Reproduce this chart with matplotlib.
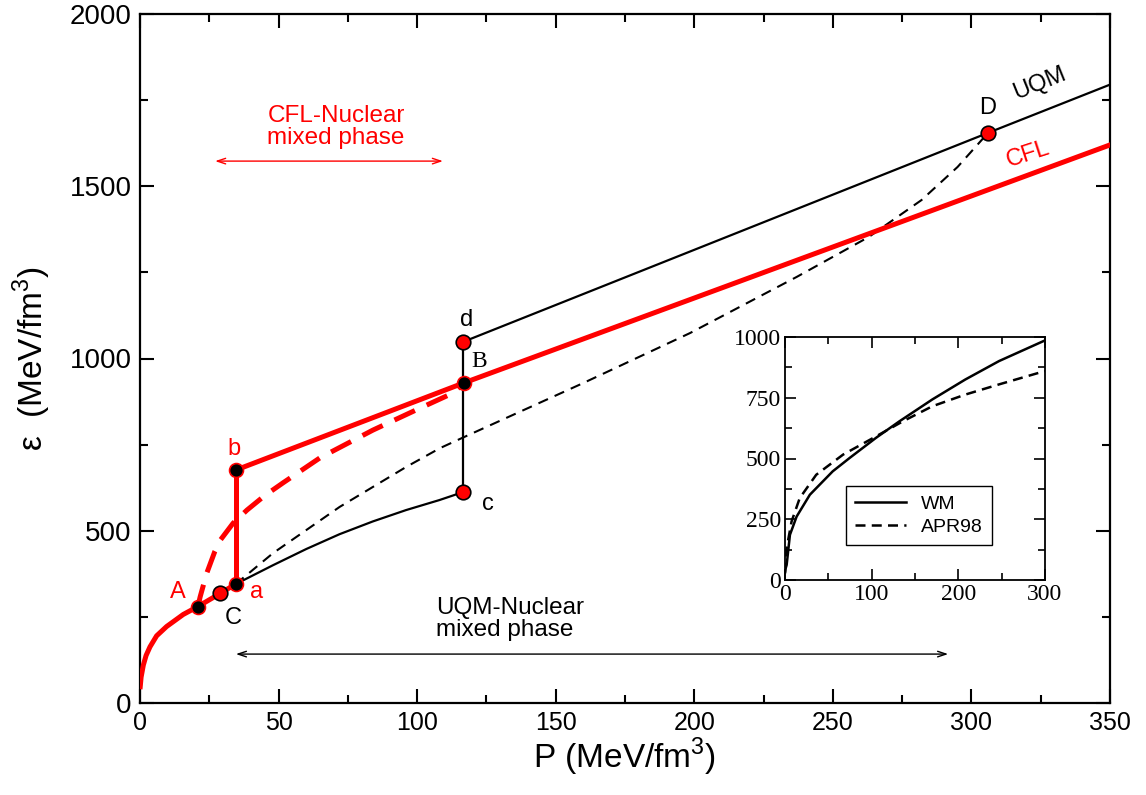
import matplotlib
matplotlib.use("Agg")
import matplotlib.pyplot as plt
from matplotlib.ticker import MultipleLocator

# --- data (P in MeV/fm^3, eps in MeV/fm^3) ---
# nuclear branch (red, low pressure) up to point a
nuc_P = [0.0, 0.4, 1.2, 2.2, 3.6, 6.0, 9.6, 15.6, 20.9, 28.9, 34.5]
nuc_eps = [40, 75, 110, 138, 163, 195, 222, 257, 280, 318, 345]

# red vertical a -> b and CFL line b -> B -> end
cfl_jump_P = [34.5, 34.5]
cfl_jump_eps = [345, 676]
cfl_P = [34.5, 116.8, 350]
cfl_eps = [676, 929, 1620]

# red dashed A -> B
cfl_mix_P = [20.9, 21.7, 24, 27, 29, 33.6, 38.6, 45, 51.6, 65, 84, 100, 113, 116.8]
cfl_mix_eps = [280, 308, 375, 440, 473, 522, 560, 602, 639, 712, 792, 852, 900, 929]

# black solid a -> c, vertical c -> d, UQM line d -> D -> end
uqm_low_P = [34.5, 48, 60, 72, 84, 96, 108, 116.5]
uqm_low_eps = [345, 400, 447, 490, 527, 560, 589, 612]
uqm_jump_P = [116.5, 116.5]
uqm_jump_eps = [612, 1048]
uqm_P = [116.5, 306, 350]
uqm_eps = [1048, 1655, 1795]

# black dashed a -> D
uqm_mix_P = [34.5, 48, 72, 96, 108.3, 116.4, 160, 198.5, 237, 263, 282, 295, 306]
uqm_mix_eps = [345, 435, 569, 685, 740, 770, 929, 1074, 1237, 1353, 1460, 1556, 1655]

# marked points
black_pts = {"A": (20.9, 280), "a": (34.5, 345), "b": (34.5, 676), "B": (116.8, 929)}
red_pts = {"C": (28.9, 318), "c": (116.5, 612), "d": (116.5, 1048), "D": (306, 1655)}

# inset: nuclear EOS
wm_P = [0, 0.5, 1.9, 5.7, 13.4, 28.7, 55, 74.5, 105, 132, 170, 208, 247, 300]
wm_eps = [30, 45, 62, 186, 261, 351, 447, 502, 585, 653, 743, 825, 901, 986]
apr_P = [0, 0.6, 1.9, 7.6, 17, 36, 67, 105, 136, 170, 208, 247, 300]
apr_eps = [30, 60, 131, 241, 337, 433, 516, 591, 653, 715, 763, 805, 860]

plt.rcParams["font.family"] = ["Liberation Sans", "DejaVu Sans"]
plt.rcParams["mathtext.fontset"] = "custom"
plt.rcParams["mathtext.rm"] = "Liberation Sans"

fig = plt.figure(figsize=(11.46, 7.95), dpi=100)
ax = fig.add_axes([140 / 1146, 1 - 703 / 795, 970 / 1146, 689 / 795])

RED = "#ff0000"
ax.plot(uqm_mix_P, uqm_mix_eps, color="black", lw=1.5, ls=(0, (5, 3.5)), zorder=2)
ax.plot(uqm_low_P, uqm_low_eps, color="black", lw=1.6, zorder=2)
ax.plot(uqm_jump_P, uqm_jump_eps, color="black", lw=1.6, zorder=2)
ax.plot(uqm_P, uqm_eps, color="black", lw=1.6, zorder=2)
ax.plot(cfl_mix_P, cfl_mix_eps, color=RED, lw=3.6, ls=(0, (4.5, 2.6)), zorder=3)
ax.plot(nuc_P, nuc_eps, color=RED, lw=3.6, solid_capstyle="butt", zorder=3)
ax.plot(cfl_jump_P, cfl_jump_eps, color=RED, lw=3.6, zorder=3)
ax.plot(cfl_P, cfl_eps, color=RED, lw=3.6, zorder=3)

for p, e in black_pts.values():
    ax.plot(p, e, marker="o", ms=10, mfc="black", mec=RED, mew=1.2, zorder=5)
for p, e in red_pts.values():
    ax.plot(p, e, marker="o", ms=10.5, mfc=RED, mec="black", mew=1.2, zorder=5)

lab = dict(fontsize=17, ha="center", va="center")
ax.text(13.7, 322, "A", color=RED, **lab)
ax.text(42.2, 322, "a", color=RED, **lab)
ax.text(33.9, 736, "b", color=RED, **lab)
ax.text(33.6, 247, "C", color="black", **lab)
ax.text(125.6, 578, "c", color="black", **lab)
ax.text(117.8, 1112, "d", color="black", **lab)
ax.text(122.5, 990, "B", color="black", family="Liberation Serif", **lab)
ax.text(305.7, 1727, "D", color="black", **lab)
ax.text(324.5, 1797, "UQM", color="black", rotation=22, **lab)
ax.text(320.5, 1591, "CFL", color=RED, rotation=18, **lab)

ax.text(70.7, 1672, "CFL-Nuclear\nmixed phase", color=RED, fontsize=17.5,
        ha="center", va="center", linespacing=1.0)
ax.annotate("", xy=(27.1, 1573), xytext=(109.3, 1573),
            arrowprops=dict(arrowstyle="<->,head_length=0.6,head_width=0.2",
                            color=RED, lw=1.0, shrinkA=0, shrinkB=0))
ax.text(106.8, 245, "UQM-Nuclear\nmixed phase", color="black", fontsize=17.5,
        ha="left", va="center", linespacing=1.0)
ax.annotate("", xy=(34.6, 142), xytext=(291.6, 142),
            arrowprops=dict(arrowstyle="<->,head_length=0.6,head_width=0.2",
                            color="black", lw=1.0, shrinkA=0, shrinkB=0))

ax.set_xlim(0, 350)
ax.set_ylim(0, 2000)
ax.xaxis.set_major_locator(MultipleLocator(50))
ax.xaxis.set_minor_locator(MultipleLocator(25))
ax.yaxis.set_major_locator(MultipleLocator(500))
ax.yaxis.set_minor_locator(MultipleLocator(250))
ax.tick_params(which="both", direction="in", top=True, right=True, width=1.5)
ax.tick_params(which="major", length=10, pad=6)
ax.tick_params(which="minor", length=6)
ax.tick_params(axis="x", labelsize=18)
ax.tick_params(axis="y", labelsize=20)
for s in ax.spines.values():
    s.set_linewidth(1.6)
ax.set_xlabel("P (MeV/fm$^3$)", fontsize=24, labelpad=0)
ax.set_ylabel("ε  (MeV/fm$^3$)", fontsize=24, labelpad=12)

# --- inset ---
ins = fig.add_axes([785 / 1146, 1 - 580 / 795, 260 / 1146, 243 / 795])
ins.plot(wm_P, wm_eps, color="black", lw=1.8, label="WM")
ins.plot(apr_P, apr_eps, color="black", lw=1.8, ls=(0, (4, 2.5)), label="APR98")
ins.set_xlim(0, 300)
ins.set_ylim(0, 1000)
ins.xaxis.set_major_locator(MultipleLocator(100))
ins.xaxis.set_minor_locator(MultipleLocator(50))
ins.yaxis.set_major_locator(MultipleLocator(250))
ins.yaxis.set_minor_locator(MultipleLocator(125))
ins.tick_params(which="both", direction="in", top=True, right=True, width=1.2)
ins.tick_params(which="major", length=8, labelsize=17, pad=3)
ins.tick_params(which="minor", length=5)
for t in ins.get_xticklabels() + ins.get_yticklabels():
    t.set_family("Liberation Serif")
for s in ins.spines.values():
    s.set_linewidth(1.3)
leg = ins.legend(loc="center", bbox_to_anchor=(0.515, 0.265), fontsize=14,
                 frameon=True, fancybox=False, edgecolor="black", framealpha=1,
                 handlelength=2.6, borderpad=0.45, labelspacing=0.3)
leg.get_frame().set_linewidth(1.0)

fig.savefig("out.png", dpi=100)
